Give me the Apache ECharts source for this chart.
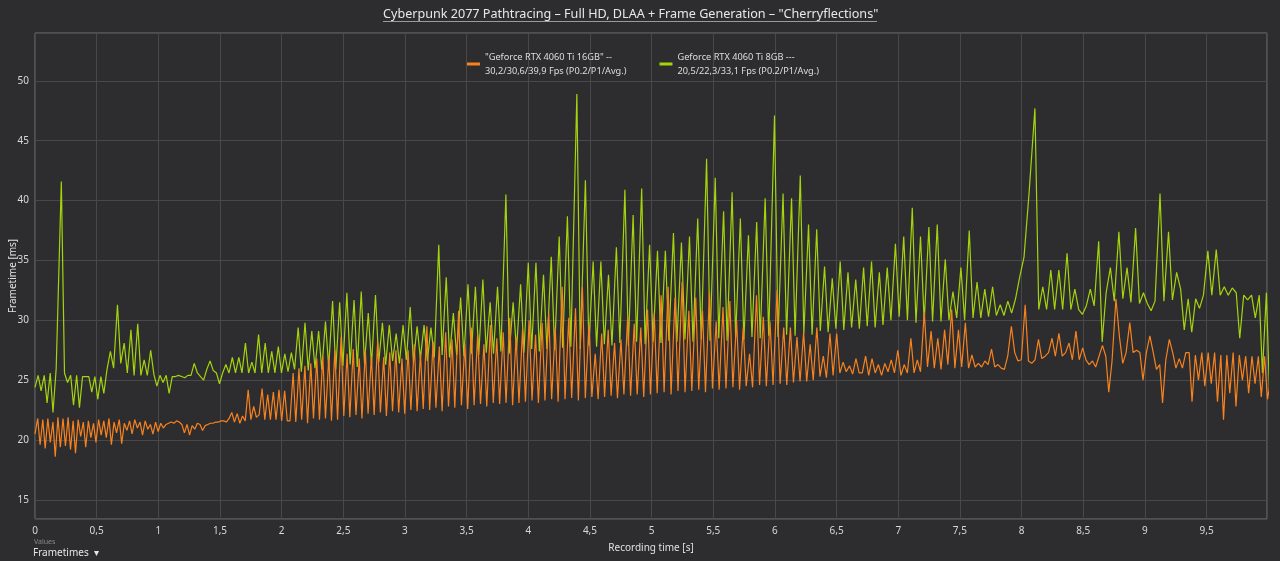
<!DOCTYPE html>
<html>
<head>
<meta charset="utf-8">
<script src="https://cdn.jsdelivr.net/npm/echarts@6/dist/echarts.min.js"></script>
<style>
  html, body { margin: 0; padding: 0; background: #2d2d30; }
  #chart { width: 1280px; height: 561px; }
</style>
</head>
<body>
<div id="chart"></div>
<script>
// legend entries
var seriesNames = [
  '"Geforce RTX 4060 Ti 16GB" --\n30,2/30,6/39,9 Fps (P0.2/P1/Avg.)',
  'Geforce RTX 4060 Ti 8GB ---\n20,5/22,3/33,1 Fps (P0.2/P1/Avg.)'
]

// RTX 4060 Ti 16GB frametimes [ms], one value per frame
var ft16Start = [
  20.5, 21.8, 19.6, 21.7, 19.3, 21.8, 19.8, 21.5, 18.6, 21.9, 19.4, 21.8, 19.5, 21.9, 19.2, 21.6, 18.9, 21.7, 20.3, 21.5,
  19.4, 21.6, 20.2, 21.4, 19.8, 21.7, 20.4,
  21.6, 20.2, 21.8, 19.6, 21.5, 20.6, 21.7, 19.7, 21.4, 20.8, 21.6, 20.5, 21.7, 21.0, 21.5, 20.4, 21.6, 20.9, 21.3, 20.5,
  21.5, 20.7, 21.4, 21.0, 21.3,
  21.4, 21.5, 21.4, 21.6, 21.5, 21.3, 20.6, 21.3, 20.4, 21.2, 20.9, 21.4, 21.3, 20.8, 21.2, 21.3, 21.4, 21.4, 21.5, 21.5,
  21.6, 21.6, 21.5,
  21.8, 22.3, 21.5, 22.2, 21.4, 22.0, 21.6, 24.2, 21.7, 22.8, 21.9, 22.1, 24.3, 21.7, 23.8, 21.7, 24.0, 21.7, 24.2, 21.6,
  24.1, 21.6
]
var ft16Middle = [
  21.6, 25.6, 21.5, 26.0, 21.7, 26.2, 21.4, 26.4, 21.8, 26.8, 21.7, 27.0,
  21.8, 27.0, 21.6, 27.5, 21.7, 28.6, 22.0, 27.2, 21.9, 27.6, 22.1, 26.8, 21.8, 27.5, 22.2, 27.0,
  22.1, 28.2, 22.3, 26.9, 22.0, 27.3, 22.4, 27.5, 22.3, 26.8, 22.2, 27.5, 22.5, 28.0, 22.4, 27.2,
  22.6, 29.5, 22.5, 28.2, 22.7, 27.8, 22.4, 29.0, 22.8, 28.4, 22.7, 30.8, 22.9, 28.0, 22.6, 29.4,
  22.9, 28.8, 23.0, 28.0, 22.8, 29.6, 23.1, 28.5, 23.0, 29.0, 23.1, 30.2, 22.9, 28.6, 23.1, 29.3,
  23.2, 30.0, 23.3, 28.8, 23.1, 29.8, 23.3, 30.6, 23.4, 29.4, 23.2, 32.8, 23.4, 30.2, 23.5, 31.0,
  23.3, 32.8, 23.5, 29.7, 23.6, 27.2, 23.4, 28.9, 23.6, 29.2, 23.7, 28.1, 23.5, 28.4, 23.8, 30.3,
  23.7, 29.7, 23.8, 29.4, 23.6, 30.9, 23.8, 30.6, 23.9, 32.1, 24.0, 32.8, 23.8, 31.9, 24.1, 33.2,
  24.0, 30.8, 24.1, 31.9, 24.2, 30.8, 24.0, 32.4, 24.3, 29.9, 24.2, 31.1, 24.3, 31.6, 24.4, 30.0,
  24.2, 29.4, 24.5, 27.2, 24.4, 32.1, 24.6, 30.3, 24.5, 29.9, 24.6, 32.5, 24.7, 29.4, 24.6, 29.4,
  24.8, 28.6, 24.9, 29.0, 24.9, 28.0
]
var ft16End = [
  25.0, 29.4, 25.3, 27.0, 25.2, 28.9, 25.4, 28.9, 25.6, 26.5, 25.7, 26.2, 25.5, 26.8, 25.6,
  25.6, 27.0, 25.4, 26.8, 25.6, 26.3, 25.4, 26.4, 25.7, 26.7, 25.6, 27.5, 25.4, 26.3, 25.6, 28.5, 25.6, 26.7, 25.7, 30.7,
  26.1, 29.1, 26.0, 28.5, 25.9, 29.2, 26.3, 30.9, 26.0, 29.2, 26.1, 29.8, 26.0, 27.1, 26.1, 26.4, 26.1, 26.6, 26.3, 27.6,
  26.1, 26.3, 26.0, 25.9, 27.0, 29.5, 27.3, 26.6, 26.7, 31.3, 26.6, 26.4, 26.7, 28.4, 26.8, 27.0, 27.3, 28.5, 27.0, 28.9,
  27.0,
  27.3, 28.1, 26.7, 29.1, 26.7, 27.7, 26.7, 26.3, 26.6, 26.1, 27.0, 27.9, 27.0, 24.0, 26.6, 31.8, 28.6, 26.4, 27.3, 29.8,
  27.3, 27.5, 27.3, 25.0, 27.3, 28.7, 27.3, 25.9, 26.3, 23.1, 26.7, 28.4, 27.3, 26.0, 26.8, 26.0, 27.3, 27.3, 23.2, 27.1,
  25.0, 27.3, 24.5, 27.3, 24.7, 27.3, 23.2, 27.1, 21.7, 27.1, 23.9, 27.3, 22.8, 27.1, 25.0, 27.0, 23.9, 27.0, 24.7, 27.0,
  23.6, 27.0, 23.4, 25.0, 22.5, 25.0, 23.9
]

// RTX 4060 Ti 8GB frametimes [ms]
var ft8Start = [
  24.4, 25.4, 24.1, 25.4, 23.1, 25.6, 22.3, 26.0, 41.6, 25.6,
  24.8, 25.4, 22.9, 25.4, 22.7, 25.3, 25.3, 25.3, 24.0, 25.3, 23.4, 25.3, 23.9, 25.9, 27.4, 26.0, 31.3, 26.4, 28.1, 25.6,
  29.2, 25.4, 29.7, 25.4, 26.7, 25.4, 27.5, 25.5, 24.5, 25.4, 24.8, 25.4, 23.9, 25.3, 25.3, 25.4, 25.3, 25.2, 25.4, 25.4,
  26.4, 25.6, 25.3, 25.0, 25.9, 26.6, 25.8, 25.6, 24.7, 25.6, 26.3, 25.6, 26.9, 25.6, 26.9, 25.6, 28.1, 25.6, 26.5, 25.6,
  28.8, 25.6, 28.1, 25.6, 27.4, 25.6, 27.8
]
var ft8Middle = [
  25.6, 27.2, 25.7, 27.3, 25.9, 29.4, 25.7, 29.8, 25.8, 29.1, 26.0, 29.1, 25.9, 29.9, 26.1, 31.6, 25.9, 31.5, 26.2, 32.3,
  26.3, 31.7, 26.1, 32.4, 26.4, 30.6, 26.3, 32.1, 26.5, 29.8, 26.3, 29.6, 26.6, 28.9, 26.4, 29.6, 26.7, 31.1, 26.5, 29.5,
  26.8, 29.6, 26.6, 29.4, 26.9, 36.3, 27.1, 33.6, 26.9, 30.6, 27.1, 31.9, 27.0, 33.0, 27.2, 32.8, 27.1, 33.4, 27.3, 31.5,
  27.2, 32.8, 27.4, 40.5, 27.2, 31.5, 27.5, 33.0, 27.3, 34.8, 27.6, 34.8, 27.4, 33.8, 27.6, 35.3, 27.5, 37.0, 27.7, 38.7,
  27.8, 48.9, 27.6, 41.7, 27.9, 34.9,
  27.8, 34.9, 28.0, 33.8, 27.9, 36.1, 28.1, 40.9, 27.9, 38.8, 28.2, 41.0, 28.0, 36.3, 28.2, 35.8, 28.1, 35.8, 28.3, 37.3,
  28.2, 36.5, 28.4, 37.0, 28.2, 38.5, 28.4, 43.5, 28.3, 41.9, 28.5, 39.1, 28.3, 40.7, 28.6, 38.5, 28.4, 37.1, 28.6, 38.2,
  28.5, 40.2, 28.7, 47.1, 28.6, 40.6, 28.8, 40.2, 28.7, 42.1, 28.9, 38.0, 28.8, 37.6, 29.1, 34.5, 29.0, 33.5, 29.3, 34.9,
  29.2, 34.0, 29.4, 33.4, 29.3, 34.4, 29.5, 34.9, 29.4, 34.0
]
var ft8End = [
  29.6, 34.4, 30.0, 36.4, 30.3, 37.0, 30.0, 39.4, 29.8, 37.0, 29.9, 37.8, 29.9, 38.0, 29.9, 35.1, 30.0, 32.4, 30.2, 34.4,
  30.0, 37.5, 30.2, 33.2, 30.2, 32.6, 30.3, 32.8, 30.4, 31.3, 30.4, 31.6, 30.6, 31.8,
  33.6, 35.3, 40.6, 47.7, 30.9, 32.8, 30.9, 34.2, 30.9, 34.2, 30.9, 35.6, 30.9, 32.6,
  30.9, 30.5, 31.2, 32.6, 31.2, 36.6, 28.2, 32.3, 34.4, 31.6, 37.4, 31.8, 34.4, 31.5, 37.7, 31.4, 32.3, 31.4, 30.8, 31.6,
  40.6, 31.6, 37.4, 31.7, 34.0, 32.6, 29.2, 31.8, 29.0, 31.8, 31.0, 32.1, 35.8, 32.1, 35.9, 32.1, 32.8, 32.1, 32.7, 32.3,
  28.5, 32.1, 31.7, 32.1, 30.2, 32.1, 25.6, 32.3, 24.2
]

var ft16 = ft16Start.concat(ft16Middle, ft16End)
var ft8 = ft8Start.concat(ft8Middle, ft8End)

// recording time = running sum of the frametimes
function toPoints(ft) {
  var t = 0
  return ft.map(function (v, i) {
    if (i > 0) t += v
    return [t / 1000, v]
  })
}

var fontFamily = '"Segoe UI", "Noto Sans", "Open Sans", sans-serif'
var chart = echarts.init(document.getElementById('chart'), null, { renderer: 'canvas' })

var option = {
  backgroundColor: '#2d2d30',
  animation: false,
  textStyle: { fontFamily: fontFamily },
  title: {
    text: 'Cyberpunk 2077 Pathtracing \u2013 Full HD, DLAA + Frame Generation \u2013 "Cherryflections"',
    left: 378,
    top: 3,
    textStyle: { color: '#e8e8e8', fontSize: 12.6, fontWeight: 'normal', fontFamily: fontFamily }
  },
  legend: {
    data: [seriesNames[0], seriesNames[1]],
    left: 462,
    top: 45,
    icon: 'rect',
    itemWidth: 13,
    itemHeight: 3,
    itemGap: 33,
    textStyle: { color: '#dedede', fontSize: 9.2, lineHeight: 14, fontFamily: fontFamily }
  },
  grid: {
    left: 35,
    right: 13,
    top: 33,
    bottom: 42,
    containLabel: false,
    outerBoundsMode: 'none',
    show: true,
    borderColor: '#747474',
    borderWidth: 1
  },
  xAxis: {
    type: 'value',
    min: 0,
    max: 9.99,
    interval: 0.5,
    name: 'Recording time [s]',
    nameLocation: 'middle',
    nameGap: 24,
    nameTextStyle: { color: '#e0e0e0', fontSize: 10 },
    axisLine: { show: false },
    axisTick: { show: false },
    axisLabel: {
      color: '#d8d8d8',
      fontSize: 10,
      margin: 7,
      showMaxLabel: false,
      formatter: function (v) { return String(v).replace('.', ',') }
    },
    splitLine: { lineStyle: { color: '#48484b', width: 1 } }
  },
  yAxis: {
    type: 'value',
    min: 13.4,
    max: 54,
    splitNumber: 8,
    name: 'Frametime [ms]',
    nameLocation: 'middle',
    nameGap: 17,
    nameMoveOverlap: false,
    nameTextStyle: { color: '#e0e0e0', fontSize: 10 },
    axisLine: { show: false },
    axisTick: { show: false },
    axisLabel: { color: '#d8d8d8', fontSize: 10, margin: 6, showMinLabel: false, showMaxLabel: false },
    splitLine: { lineStyle: { color: '#48484b', width: 1 } }
  },
  series: [
    {
      name: seriesNames[1],
      type: 'line',
      data: toPoints(ft8),
      showSymbol: false,
      color: '#a4d40c',
      lineStyle: { width: 1.2, color: '#a4d40c' },
      z: 2
    },
    {
      name: seriesNames[0],
      type: 'line',
      data: toPoints(ft16),
      showSymbol: false,
      color: '#f7821e',
      lineStyle: { width: 1.2, color: '#f7821e' },
      z: 3
    }
  ],
  graphic: [
    { type: 'line', shape: { x1: 383, y1: 21.5, x2: 877, y2: 21.5 }, style: { stroke: '#9a9a9a', lineWidth: 1 } },
    { type: 'text', left: 34, top: 538, style: { text: 'Values', fill: '#8a8a8a', fontSize: 7, fontFamily: fontFamily } },
    { type: 'text', left: 33, top: 548, style: { text: 'Frametimes  \u25BE', fill: '#e6e6e6', fontSize: 10, fontFamily: fontFamily } }
  ]
}

chart.setOption(option)
</script>
</body>
</html>
